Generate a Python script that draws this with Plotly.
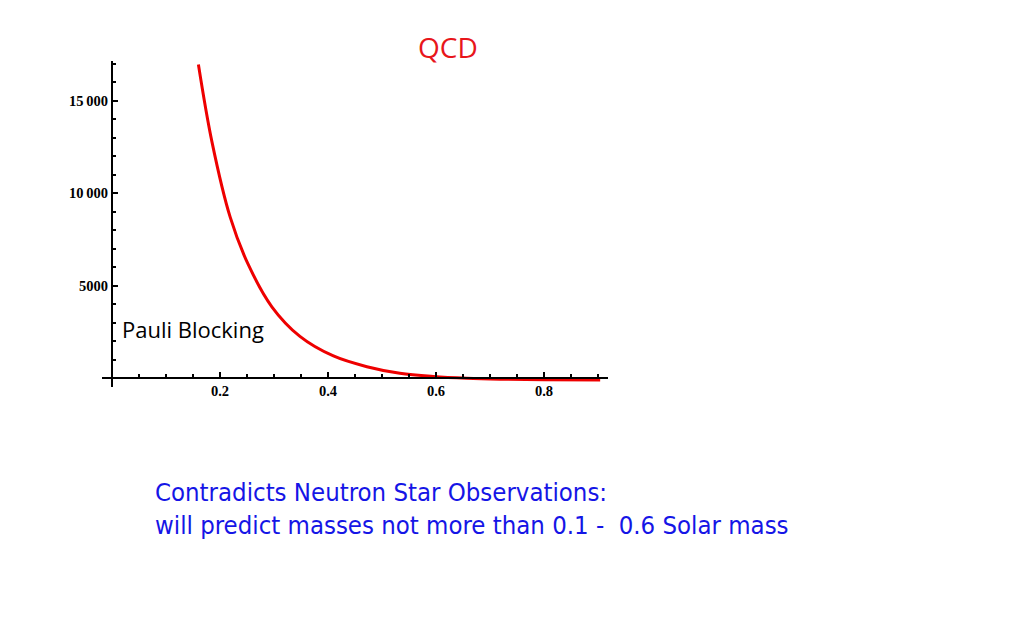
import plotly.graph_objects as go

# curve
x_vals = [0.160, 0.185, 0.219, 0.252, 0.296, 0.348, 0.410, 0.472, 0.533,
          0.595, 0.657, 0.719, 0.800, 0.904]
y_vals = [16950, 12780, 8680, 6150, 3850, 2250, 1190, 610, 255,
          80, -15, -65, -95, -112]

x_ticks = [0.2, 0.4, 0.6, 0.8]
x_labels = ["0.2", "0.4", "0.6", "0.8"]
y_ticks = [5000, 10000, 15000]
y_labels = ["5000", "10\u2009000", "15\u2009000"]

W, H = 1024, 640
OX, OY = 8, 8  # page body margin
tick_font = dict(family="Liberation Serif, Times New Roman, serif", size=14.5,
                 color="black", weight="bold")


def px(v):
    return (v - OX) / W


def py(v):
    return 1 - (v - OY) / H


fig = go.Figure()
fig.add_trace(go.Scatter(
    x=x_vals, y=y_vals, mode="lines",
    line=dict(color="#ee0000", width=3, shape="spline", smoothing=1.0),
    hoverinfo="skip", showlegend=False
))

fig.update_layout(
    width=W, height=H,
    margin=dict(l=0, r=0, t=0, b=0),
    paper_bgcolor="white", plot_bgcolor="white",
    showlegend=False,
    xaxis=dict(
        domain=[px(101.7), px(608)],
        range=[-0.0191, 0.9185],
        anchor="free", position=py(378),
        showline=True, linecolor="black", linewidth=2,
        showgrid=False, zeroline=False,
        tickvals=x_ticks, ticktext=x_labels,
        ticks="inside", ticklen=5, tickwidth=2, tickcolor="black",
        minor=dict(dtick=0.05, tick0=0, ticks="inside", ticklen=3, tickwidth=2, tickcolor="black"),
        tickfont=tick_font,
    ),
    yaxis=dict(
        domain=[py(387), py(61)],
        range=[-486, 17135],
        anchor="free", position=px(112),
        showline=True, linecolor="black", linewidth=2,
        showgrid=False, zeroline=False,
        tickvals=y_ticks, ticktext=y_labels,
        ticks="inside", ticklen=5, tickwidth=2, tickcolor="black",
        minor=dict(dtick=1000, tick0=0, ticks="inside", ticklen=3, tickwidth=2, tickcolor="black"),
        tickfont=tick_font,
    ),
)

fig.add_annotation(
    text="QCD", xref="paper", yref="paper",
    x=px(448), y=py(47), xanchor="center", yanchor="middle",
    showarrow=False, font=dict(family="Open Sans", size=28, color="#e8161b")
)
fig.add_annotation(
    text="Pauli Blocking", xref="paper", yref="paper",
    x=px(120), y=py(329), xanchor="left", yanchor="middle",
    showarrow=False, font=dict(family="Open Sans", size=22, color="black")
)
fig.add_annotation(
    text="Contradicts Neutron Star Observations:<br>will predict masses not more than 0.1 -  0.6 Solar mass",
    xref="paper", yref="paper",
    x=px(153), y=py(508), xanchor="left", yanchor="middle", align="left",
    showarrow=False,
    font=dict(family="Liberation Sans Narrow, DejaVu Sans Condensed, Liberation Sans", size=25.5, color="#1515e6")
)

fig.write_html("out.html")
